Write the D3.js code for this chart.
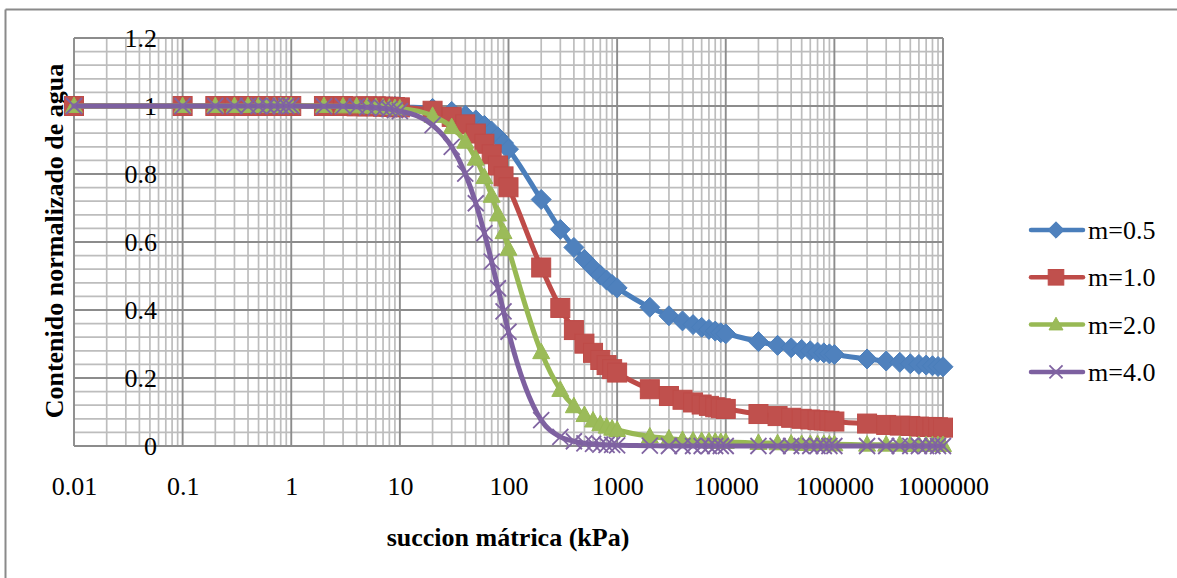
<!DOCTYPE html>
<html><head><meta charset="utf-8">
<script src="https://cdn.jsdelivr.net/npm/d3@7"></script>
<style>
body{margin:0;background:#fff;}
svg{display:block;}
text{font-family:"Liberation Serif","Times New Roman",serif;fill:#000;}
</style>
</head><body>
<svg id="c" width="1177" height="578"></svg>
<script>
// ---- data ----
const suction = [0.01,
  0.1,0.2,0.3,0.4,0.5,0.6,0.7,0.8,0.9,
  1,2,3,4,5,6,7,8,9,
  10,20,30,40,50,60,70,80,90,
  100,200,300,400,500,600,700,800,900,
  1000,2000,3000,4000,5000,6000,7000,8000,9000,
  10000,20000,30000,40000,50000,60000,70000,80000,90000,
  100000,200000,300000,400000,500000,600000,700000,800000,900000,
  1000000];
const seriesNames = ["m=0.5","m=1.0","m=2.0","m=4.0"];
const m05 = [1.000,
  1.000,1.000,1.000,1.000,1.000,1.000,1.000,1.000,1.000,
  1.000,1.000,1.000,1.000,1.000,0.999,0.999,0.999,0.999,
  0.998,0.993,0.984,0.973,0.959,0.943,0.926,0.909,0.891,
  0.873,0.725,0.637,0.584,0.549,0.523,0.503,0.488,0.475,
  0.465,0.408,0.383,0.368,0.357,0.349,0.343,0.338,0.333,
  0.330,0.307,0.296,0.289,0.284,0.280,0.276,0.274,0.271,
  0.269,0.256,0.250,0.246,0.242,0.240,0.238,0.236,0.234,
  0.233];
const m10 = [1.000,
  1.000,1.000,1.000,1.000,1.000,1.000,1.000,1.000,1.000,
  1.000,1.000,1.000,0.999,0.999,0.999,0.998,0.998,0.997,
  0.996,0.986,0.968,0.946,0.919,0.889,0.858,0.825,0.793,
  0.761,0.525,0.406,0.341,0.301,0.274,0.253,0.238,0.226,
  0.216,0.167,0.147,0.136,0.128,0.122,0.118,0.114,0.111,
  0.109,0.094,0.088,0.083,0.080,0.078,0.076,0.075,0.074,
  0.072,0.066,0.062,0.060,0.059,0.057,0.056,0.056,0.055,
  0.054];
const m20 = [1.000,
  1.000,1.000,1.000,1.000,1.000,1.000,1.000,1.000,1.000,
  1.000,1.000,0.999,0.999,0.998,0.997,0.996,0.995,0.994,
  0.993,0.971,0.938,0.895,0.845,0.791,0.736,0.681,0.629,
  0.580,0.276,0.165,0.117,0.091,0.075,0.064,0.057,0.051,
  0.047,0.028,0.022,0.018,0.016,0.015,0.014,0.013,0.012,
  0.012,0.009,0.008,0.007,0.006,0.006,0.006,0.006,0.005,
  0.005,0.004,0.004,0.004,0.003,0.003,0.003,0.003,0.003,
  0.003];
const m40 = [1.000,
  1.000,1.000,1.000,1.000,1.000,1.000,1.000,1.000,1.000,
  1.000,0.999,0.999,0.998,0.996,0.995,0.993,0.991,0.988,
  0.985,0.944,0.880,0.801,0.714,0.626,0.542,0.464,0.396,
  0.336,0.076,0.027,0.014,0.008,0.006,0.004,0.003,0.003,
  0.002,0.001,0.000,0.000,0.000,0.000,0.000,0.000,0.000,
  0.000,0.000,0.000,0.000,0.000,0.000,0.000,0.000,0.000,
  0.000,0.000,0.000,0.000,0.000,0.000,0.000,0.000,0.000,
  0.000];
const xTickValues = [0.01,0.1,1,10,100,1000,10000,100000,1000000];
const xTickLabels = ["0.01","0.1","1","10","100","1000","10000","100000","1000000"];
const yTickValues = [0,0.2,0.4,0.6,0.8,1,1.2];
const yTickLabels = ["0","0.2","0.4","0.6","0.8","1","1.2"];
const xTitle = "succion mátrica (kPa)";
const yTitle = "Contenido normalizado de agua";

// ---- layout ----
const svg = d3.select("#c");
const L = 74, R = 943, T = 38, B = 446;
const x = d3.scaleLog().domain([0.01, 1000000]).range([L, R]);
const y = d3.scaleLinear().domain([0, 1.2]).range([B, T]);

const styles = [
  {line:"#4A7EBB", fill:"#4F81BD", shape:"diamond"},
  {line:"#BE4B48", fill:"#C0504D", shape:"square"},
  {line:"#98B954", fill:"#9BBB59", shape:"triangle"},
  {line:"#7D60A0", fill:"#8064A2", shape:"x"}
];
const seriesValues = [m05, m10, m20, m40];

// outer frame
svg.append("line").attr("x1",5.5).attr("y1",9.5).attr("x2",1177).attr("y2",9.5)
  .attr("stroke","#8a8a8a").attr("stroke-width",2);
svg.append("line").attr("x1",5.5).attr("y1",9.5).attr("x2",5.5).attr("y2",578)
  .attr("stroke","#8a8a8a").attr("stroke-width",2);

// gridlines
const g = svg.append("g");
const minorX = [], majorX = [];
for (let e = -2; e <= 6; e++) {
  const d = Math.pow(10, e);
  majorX.push(d);
  if (e < 6) for (let k = 2; k <= 9; k++) minorX.push(d * k);
}
const minorY = [], majorY = [];
for (let i = 0; i <= 30; i++) {
  const v = i * 0.04;
  if (i % 5 === 0) majorY.push(v); else minorY.push(v);
}
g.selectAll(".mx").data(minorX).enter().append("line")
  .attr("x1", d => x(d)).attr("x2", d => x(d)).attr("y1", T).attr("y2", B)
  .attr("stroke", "#bdbdbd").attr("stroke-width", 1.7);
g.selectAll(".my").data(minorY).enter().append("line")
  .attr("x1", L).attr("x2", R).attr("y1", d => y(d)).attr("y2", d => y(d))
  .attr("stroke", "#bdbdbd").attr("stroke-width", 1.7);
g.selectAll(".Mx").data(majorX).enter().append("line")
  .attr("x1", d => x(d)).attr("x2", d => x(d)).attr("y1", T).attr("y2", B)
  .attr("stroke", "#8c8c8c").attr("stroke-width", 1.9);
g.selectAll(".My").data(majorY).enter().append("line")
  .attr("x1", L).attr("x2", R).attr("y1", d => y(d)).attr("y2", d => y(d))
  .attr("stroke", "#8c8c8c").attr("stroke-width", 1.9);

// axes (labels only)
const xAxis = d3.axisBottom(x).tickValues(xTickValues)
  .tickFormat((d, i) => xTickLabels[i]).tickSize(0).tickPadding(0);
const gx = svg.append("g").attr("transform", "translate(0,477)").call(xAxis);
gx.select(".domain").remove();
gx.selectAll("text").attr("font-size", 26).attr("font-family", "Liberation Serif").attr("fill","#000");

const yAxis = d3.axisLeft(y).tickValues(yTickValues)
  .tickFormat((d, i) => yTickLabels[i]).tickSize(0).tickPadding(0);
const gy = svg.append("g").attr("transform", "translate(157,0)").call(yAxis);
gy.select(".domain").remove();
gy.selectAll("text").attr("font-size", 26).attr("font-family", "Liberation Serif").attr("fill","#000");

// titles
svg.append("text").attr("x", 508).attr("y", 546).attr("text-anchor", "middle")
  .attr("font-size", 26).attr("font-weight", "bold").text(xTitle);
svg.append("text").attr("transform", "translate(63,241) rotate(-90)").attr("text-anchor", "middle")
  .attr("font-size", 26).attr("font-weight", "bold").text(yTitle);

// marker drawer
function marker(sel, st, k) {
  k = k || 1;
  if (st.shape === "diamond") {
    sel.append("path").attr("d", `M0,${-10*k}L${10*k},0L0,${10*k}L${-10*k},0Z`).attr("fill", st.fill).attr("stroke", st.line).attr("stroke-width", 1);
  } else if (st.shape === "square") {
    sel.append("rect").attr("x", -9.5*k).attr("y", -9.5*k).attr("width", 19*k).attr("height", 19*k)
      .attr("fill", st.fill).attr("stroke", st.line).attr("stroke-width", 1);
  } else if (st.shape === "triangle") {
    sel.append("path").attr("d", `M0,${-9*k}L${8.5*k},${6.5*k}L${-8.5*k},${6.5*k}Z`).attr("fill", st.fill).attr("stroke", st.line).attr("stroke-width", 1);
  } else {
    sel.append("path").attr("d", `M${-8*k},${-8*k}L${8*k},${8*k}M${-8*k},${8*k}L${8*k},${-8*k}`).attr("fill", "none").attr("stroke", st.fill).attr("stroke-width", 1.8);
  }
}

// series
const line = d3.line().x(d => x(d[0])).y(d => y(d[1])).curve(d3.curveMonotoneX);
seriesValues.forEach((vals, si) => {
  const st = styles[si];
  const pts = suction.map((s, i) => [s, vals[i]]);
  const sg = svg.append("g");
  sg.append("path").attr("d", line(pts)).attr("fill", "none").attr("stroke", st.line)
    .attr("stroke-width", 5).attr("stroke-linejoin", "round").attr("stroke-linecap", "round");
  sg.selectAll(".m").data(pts).enter().append("g")
    .attr("transform", d => `translate(${x(d[0])},${y(d[1])})`)
    .each(function () { marker(d3.select(this), st); });
});

// legend
const lg = svg.append("g");
seriesNames.forEach((name, i) => {
  const cy = 230 + i * 47.3;
  const st = styles[i];
  lg.append("line").attr("x1", 1031).attr("x2", 1083).attr("y1", cy).attr("y2", cy)
    .attr("stroke", st.line).attr("stroke-width", 4.5).attr("stroke-linecap", "round");
  const m = lg.append("g").attr("transform", `translate(1056,${cy})`);
  marker(m, st, 0.82);
  lg.append("text").attr("x", 1088).attr("y", cy + 9).attr("font-size", 26).text(name);
});
</script>
</body></html>
